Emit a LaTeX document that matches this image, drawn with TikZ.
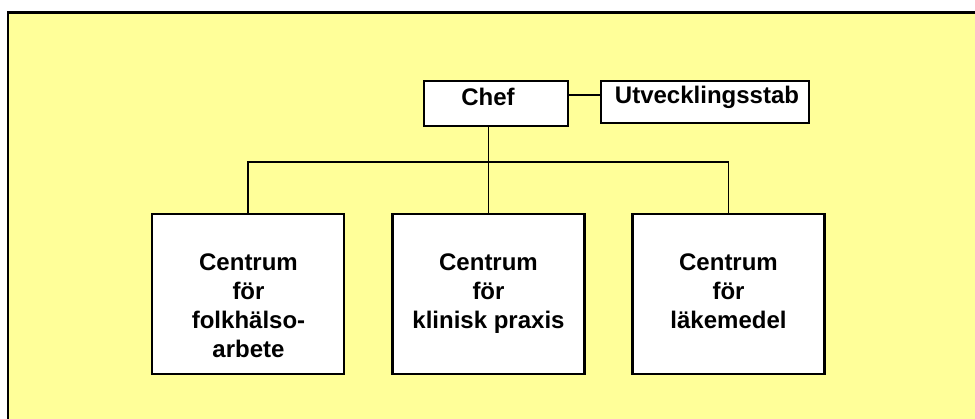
\documentclass[tikz,border=0pt]{standalone}
\usepackage{fontspec}
\setmainfont{Liberation Sans}
\definecolor{paper}{HTML}{FFFF99}
\tikzset{
  orgbox/.style={draw=black, line width=2.2pt, fill=white, inner sep=0pt},
  centrebox/.style={orgbox, minimum width=192pt, minimum height=160pt},
  orgtext/.style={font=\bfseries\fontsize{24}{29}\selectfont, inner sep=0pt, align=center},
  orgline/.style={line width=1.8pt}
}
\begin{document}
\begin{tikzpicture}[x=1pt, y=-1pt]
\clip (0,0) rectangle (975,419);
% background sheet, cut at right and bottom
\fill[paper] (8,12.5) rectangle (990,430);
\draw[line width=2.5pt] (8,430) -- (8,12.5) -- (990,12.5);

% top row
\node[orgbox, minimum width=144pt, minimum height=45pt] (chef) at (496,103.5) {};
\node[orgtext, anchor=base] (cheftext) at (488,106) {Chef};
\node[orgbox, minimum width=208pt, minimum height=42pt] (stab) at (705,102) {};
\node[orgtext, anchor=base] (stabtext) at (707,104) {Utvecklingsstab};

% centres
\node[centrebox] (folk) at (248,294) {};
\node[centrebox] (praxis) at (488.5,294) {};
\node[centrebox] (lake) at (728.5,294) {};
\node[orgtext, anchor=north] (folktext) at (248.5,253.5) {Centrum\\för\\folkhälso-\\arbete};
\node[orgtext, anchor=north] (praxistext) at (488.5,253.5) {Centrum\\för\\klinisk praxis};
\node[orgtext, anchor=north] (laketext) at (728.5,253.5) {Centrum\\för\\läkemedel};

% connectors
\coordinate (bus) at (488.5,162);
\draw[orgline] (chef.east |- 0,95) -- (stab.west |- 0,95);
\draw[orgline] (chef.south -| praxis.north) -- (praxis.north);
\draw[orgline] (folk.north) |- (bus) -| (lake.north);
\end{tikzpicture}
\end{document}
